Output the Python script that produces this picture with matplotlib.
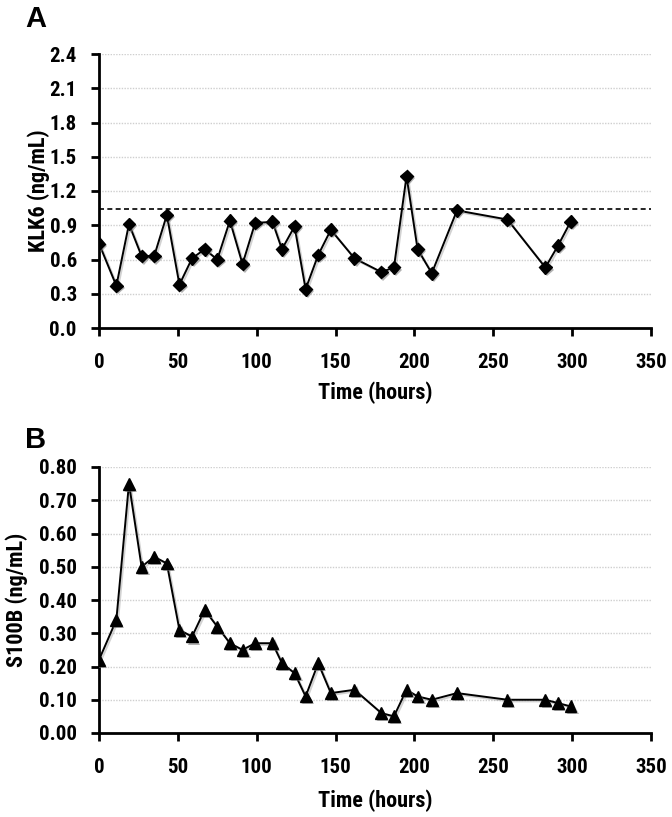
import matplotlib
matplotlib.use("Agg")
import matplotlib.pyplot as plt
import matplotlib.patheffects as pe
from matplotlib.ticker import MultipleLocator, FormatStrFormatter
from matplotlib import font_manager

time_a = [0, 11, 19, 27, 35, 43, 51, 59, 67, 75, 83, 91, 99, 110, 116, 124, 131, 139, 147, 162,
          179, 187, 195, 202, 211, 227, 259, 283, 291, 299]
klk6 = [0.74, 0.37, 0.91, 0.63, 0.63, 0.99, 0.38, 0.61, 0.69, 0.60, 0.94, 0.56, 0.92, 0.93, 0.69, 0.89,
        0.34, 0.64, 0.86, 0.61, 0.49, 0.53, 1.33, 0.69, 0.48, 1.03, 0.95, 0.53, 0.72, 0.93]
klk6_threshold = 1.04

time_b = [0, 11, 19, 27, 35, 43, 51, 59, 67, 75, 83, 91, 99, 110, 116, 124, 131, 139, 147, 162,
          179, 187, 195, 202, 211, 227, 259, 283, 291, 299]
s100b = [0.22, 0.34, 0.75, 0.50, 0.53, 0.51, 0.31, 0.29, 0.37, 0.32, 0.27, 0.25, 0.27, 0.27, 0.21, 0.18,
         0.11, 0.21, 0.12, 0.13, 0.06, 0.05, 0.13, 0.11, 0.10, 0.12, 0.10, 0.10, 0.09, 0.08]

# choose a condensed font if available
entries = font_manager.fontManager.ttflist
names = {f.name for f in entries}
FONT = ['DejaVu Sans']
STRETCH = 'normal'
for cand in ['Liberation Sans Narrow', 'Roboto Condensed', 'Open Sans Condensed', 'Noto Sans Condensed']:
    if cand in names:
        FONT = [cand, 'DejaVu Sans']
        break
else:
    if any(f.name == 'DejaVu Sans' and f.stretch in ('condensed', 'semi-condensed') for f in entries):
        STRETCH = 'condensed'

fig = plt.figure(figsize=(6.72, 8.17), dpi=100)
W, H = 672, 817

def make_ax(top, bottom):
    return fig.add_axes([99 / W, 1 - bottom / H, (651 - 99) / W, (bottom - top) / H])

mshadow = [pe.SimplePatchShadow(offset=(1.5, -1.5), shadow_rgbFace='gray', alpha=0.6), pe.Normal()]
lshadow = [pe.SimpleLineShadow(offset=(1.2, -1.2), shadow_color='gray', alpha=0.35), pe.Normal()]

def style(ax, ymax, ystep, fmt, ylabel, ylab_x, xlab_y):
    ax.set_xlim(0, 350)
    ax.set_ylim(0, ymax)
    ax.xaxis.set_major_locator(MultipleLocator(50))
    ax.yaxis.set_major_locator(MultipleLocator(ystep))
    ax.yaxis.set_major_formatter(FormatStrFormatter(fmt))
    for s in ['top', 'right']:
        ax.spines[s].set_visible(False)
    for s in ['left', 'bottom']:
        ax.spines[s].set_linewidth(2)
    ax.tick_params(axis='both', direction='out', length=6, width=2)
    ax.tick_params(axis='x', pad=12)
    ax.tick_params(axis='y', pad=10)
    for lab in ax.get_xticklabels() + ax.get_yticklabels():
        lab.set_family(FONT)
        lab.set_fontweight('bold')
        lab.set_fontstretch(STRETCH)
        lab.set_fontsize(15)
    ax.yaxis.grid(True, color='#cfcfcf', linestyle=(0, (1, 1)), linewidth=1)
    ax.set_axisbelow(True)
    ax.set_xlabel('Time (hours)', family=FONT, fontweight='bold', fontstretch=STRETCH, fontsize=16)
    ax.set_ylabel(ylabel, family=FONT, fontweight='bold', fontstretch=STRETCH, fontsize=16)
    ax.xaxis.set_label_coords(0.5, xlab_y)
    ax.yaxis.set_label_coords(ylab_x, 0.5)

axA = make_ax(54, 328)
axA.plot(time_a, klk6, color='black', linewidth=1.4, path_effects=lshadow, zorder=3)
axA.plot(time_a, klk6, linestyle='none', marker='D', markersize=6.5,
         markerfacecolor='black', markeredgecolor='black', path_effects=mshadow, zorder=4)
axA.axhline(klk6_threshold, color='black', linestyle=(0, (3, 2)), linewidth=1.2, zorder=2)
style(axA, 2.4, 0.3, '%.1f', 'KLK6 (ng/mL)', (50 - 99) / 552, (328 - 382) / 274)

axB = make_ax(467, 733)
axB.plot(time_b, s100b, color='black', linewidth=1.4, path_effects=lshadow, zorder=3)
axB.plot(time_b, s100b, linestyle='none', marker='^', markersize=8.5,
         markerfacecolor='black', markeredgecolor='black', path_effects=mshadow, zorder=4)
style(axB, 0.8, 0.1, '%.2f', 'S100B (ng/mL)', (28 - 99) / 552, (733 - 790) / 266)

fig.text(25 / W, 1 - 19 / H, 'A', family=['Liberation Sans', 'DejaVu Sans'], fontweight='bold',
         fontsize=21, va='center', ha='left')
fig.text(25 / W, 1 - 440 / H, 'B', family=['Liberation Sans', 'DejaVu Sans'], fontweight='bold',
         fontsize=21, va='center', ha='left')

fig.savefig('out.png', dpi=100)
